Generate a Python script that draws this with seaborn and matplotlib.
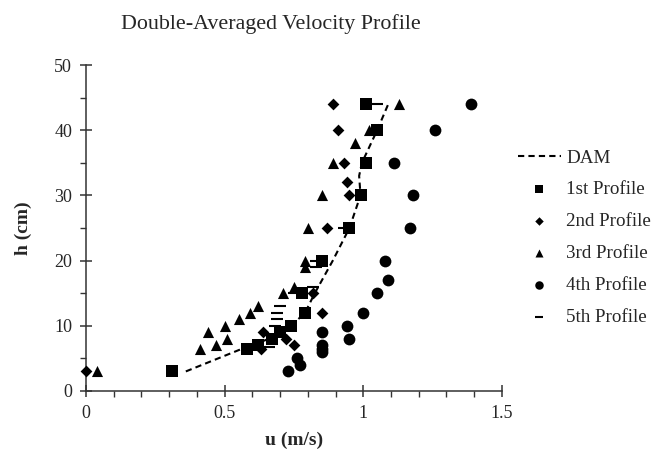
import matplotlib
matplotlib.use("Agg")
import matplotlib.pyplot as plt
import pandas as pd
import seaborn as sns
from matplotlib.ticker import MultipleLocator, FuncFormatter

# Double-averaged model curve
dam_u = [0.36, 0.57, 0.66, 0.74, 0.79, 0.825, 0.89, 0.95, 0.99, 0.985, 0.995, 1.05, 1.09]
dam_h = [3, 6.6, 8, 10, 12, 15, 20, 25, 30, 33, 35, 40, 44]

# Measured profiles
p1_u = [0.31, 0.58, 0.62, 0.67, 0.70, 0.74, 0.79, 0.78, 0.85, 0.95, 0.99, 1.01, 1.05, 1.01]
p1_h = [3, 6.5, 7, 8, 9, 10, 12, 15, 20, 25, 30, 35, 40, 44]

p2_u = [0.0, 0.63, 0.64, 0.72, 0.75, 0.82, 0.85, 0.87, 0.95, 0.94, 0.93, 0.91, 0.89]
p2_h = [3, 6.5, 9, 8, 7, 15, 12, 25, 30, 32, 35, 40, 44]

p3_u = [0.04, 0.41, 0.47, 0.51, 0.44, 0.50, 0.55, 0.59, 0.62, 0.71, 0.75, 0.79,
        0.79, 0.80, 0.85, 0.89, 0.97, 1.02, 1.13]
p3_h = [3, 6.4, 7, 8, 9, 10, 11, 12, 13, 15, 16, 19, 20, 25, 30, 35, 38, 40, 44]

p4_u = [0.73, 0.77, 0.76, 0.85, 0.85, 0.85, 0.95, 0.85, 0.94, 1.00, 1.05, 1.09,
        1.08, 1.17, 1.18, 1.11, 1.26, 1.39]
p4_h = [3, 4, 5, 6, 6.5, 7, 8, 9, 10, 12, 15, 17, 20, 25, 30, 35, 40, 44]

p5_u = [0.66, 0.67, 0.68, 0.69, 0.69, 0.70, 0.75, 0.82, 0.83, 0.83, 0.93, 1.05]
p5_h = [6.8, 8, 10, 11, 12, 13, 15, 16, 19, 20, 25, 44]

profiles = [
    ("1st Profile", p1_u, p1_h, "s", 68),
    ("2nd Profile", p2_u, p2_h, "D", 36),
    ("3rd Profile", p3_u, p3_h, "^", 64),
    ("4th Profile", p4_u, p4_h, "o", 72),
]

sns.set_theme(style="white")
plt.rcParams["font.family"] = ["Liberation Serif", "DejaVu Serif"]

fig = plt.figure(figsize=(6.54, 4.54), dpi=100)
ax = fig.add_axes([0.1315, 0.1388, 0.636, 0.718])

dam = pd.DataFrame({"u": dam_u, "h": dam_h})
sns.lineplot(data=dam, x="u", y="h", sort=False, estimator=None, color="black",
             linestyle=(0, (3, 2)), linewidth=1.5, label="DAM", ax=ax)

for name, u, h, mk, size in profiles:
    sns.scatterplot(x=u, y=h, marker=mk, s=size, color="black", edgecolor="black",
                    linewidth=0, label=name, clip_on=False, zorder=3, ax=ax)

sns.scatterplot(x=p5_u, y=p5_h, marker="_", s=70, color="black", linewidth=1.5,
                label="5th Profile", zorder=3, ax=ax)

ax.set_xlim(0, 1.5)
ax.set_ylim(0, 50)
ax.xaxis.set_major_locator(MultipleLocator(0.5))
ax.xaxis.set_minor_locator(MultipleLocator(0.1))
ax.yaxis.set_major_locator(MultipleLocator(10))
ax.yaxis.set_minor_locator(MultipleLocator(5))
fmt = FuncFormatter(lambda v, p: "%g" % v)
ax.xaxis.set_major_formatter(fmt)
ax.yaxis.set_major_formatter(fmt)

sns.despine(ax=ax)
for side in ("left", "bottom"):
    ax.spines[side].set_color("#333333")
    ax.spines[side].set_linewidth(1.1)
ax.tick_params(which="major", direction="inout", length=8, width=1.1,
               color="#333333", labelsize=13, pad=6)
ax.tick_params(which="minor", direction="out", length=4, width=1.0,
               color="#333333")
ax.tick_params(axis="x", which="both", bottom=True)
ax.tick_params(axis="y", which="both", left=True)

ax.set_xlabel("u (m/s)", fontsize=14, fontweight="bold", labelpad=7)
ax.set_ylabel("h (cm)", fontsize=14, fontweight="bold", labelpad=16)

fig.text(0.414, 0.948, "Double-Averaged Velocity Profile", ha="center",
         va="center", fontsize=15.8)

ax.legend(loc="upper left", bbox_to_anchor=(0.792, 0.671),
          bbox_transform=fig.transFigure, frameon=False, fontsize=13.7,
          handlelength=2.25, handletextpad=0.3, markerscale=0.72,
          labelspacing=0.76, borderpad=0, borderaxespad=0)

fig.savefig("out.png", dpi=100)
